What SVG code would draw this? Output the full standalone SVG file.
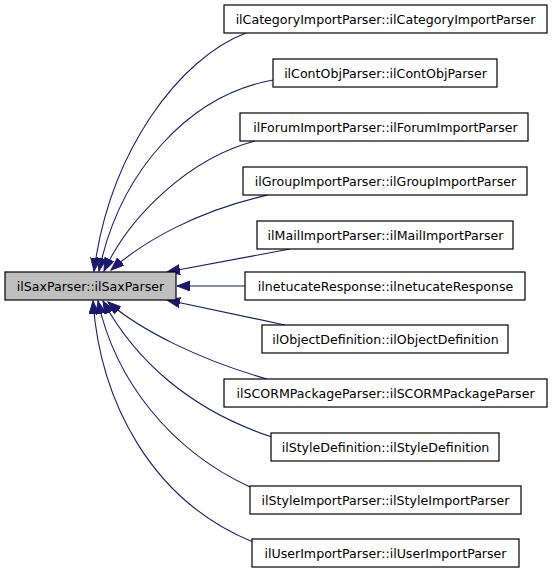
<svg xmlns="http://www.w3.org/2000/svg" width="552" height="573" viewBox="0 0 552 573">
<style>
.n rect{fill:#fff;stroke:#000;stroke-width:1.2}
#main rect{fill:#bfbfbf}
.n text{font-family:"DejaVu Sans",sans-serif;font-size:12.6px;fill:#000;text-anchor:middle}
.e path{fill:none;stroke:#191970;stroke-width:1.1;marker-end:url(#ah)}
</style>
<defs>
<marker id="ah" markerUnits="userSpaceOnUse" markerWidth="14" markerHeight="11" refX="13" refY="5" orient="auto" viewBox="0 0 14 11">
<path d="M0,0 L13,5 L0,10 z" fill="#191970" stroke="#191970" stroke-width="1"/>
</marker>
</defs>
<rect width="552" height="573" fill="#fff"/>
<g id="edges" class="e">
<path d="M246,33 C180,58 110,150 94,271"/>
<path d="M273,80 C190,95 120,170 99,271"/>
<path d="M255,141 C190,158 130,215 104,271"/>
<path d="M268,195 C200,210 145,240 111,270"/>
<path d="M290,249 L167,272"/>
<path d="M245,286 L177,286"/>
<path d="M285,325 L167,300"/>
<path d="M267,379 C200,360 140,330 108,302"/>
<path d="M272,437 C190,410 135,360 103,301"/>
<path d="M250,487 C170,450 115,380 98,301"/>
<path d="M253,542 C150,500 100,400 93,301"/>
</g>
<g id="main" class="n"><rect x="5" y="272" width="171" height="28"/><text x="90.5" y="290.5">ilSaxParser::ilSaxParser</text></g>
<g id="n1" class="n"><rect x="224" y="5" width="323" height="28"/><text x="385.5" y="23.5">ilCategoryImportParser::ilCategoryImportParser</text></g>
<g id="n2" class="n"><rect x="273" y="59" width="224" height="28"/><text x="385.5" y="77.5">ilContObjParser::ilContObjParser</text></g>
<g id="n3" class="n"><rect x="240" y="113" width="288" height="28"/><text x="385.5" y="131.5">ilForumImportParser::ilForumImportParser</text></g>
<g id="n4" class="n"><rect x="243" y="167" width="284" height="28"/><text x="385.5" y="185.5">ilGroupImportParser::ilGroupImportParser</text></g>
<g id="n5" class="n"><rect x="257" y="221" width="256" height="28"/><text x="385.5" y="239.5">ilMailImportParser::ilMailImportParser</text></g>
<g id="n6" class="n"><rect x="245" y="272" width="280" height="28"/><text x="385.5" y="290.5">ilnetucateResponse::ilnetucateResponse</text></g>
<g id="n7" class="n"><rect x="262" y="325" width="246" height="28"/><text x="385.5" y="343.5">ilObjectDefinition::ilObjectDefinition</text></g>
<g id="n8" class="n"><rect x="224" y="379" width="323" height="28"/><text x="385.5" y="397.5">ilSCORMPackageParser::ilSCORMPackageParser</text></g>
<g id="n9" class="n"><rect x="271" y="433" width="228" height="28"/><text x="385.5" y="451.5">ilStyleDefinition::ilStyleDefinition</text></g>
<g id="n10" class="n"><rect x="250" y="486" width="271" height="28"/><text x="385.5" y="504.5">ilStyleImportParser::ilStyleImportParser</text></g>
<g id="n11" class="n"><rect x="252" y="539" width="267" height="28"/><text x="385.5" y="557.5">ilUserImportParser::ilUserImportParser</text></g>
</svg>
